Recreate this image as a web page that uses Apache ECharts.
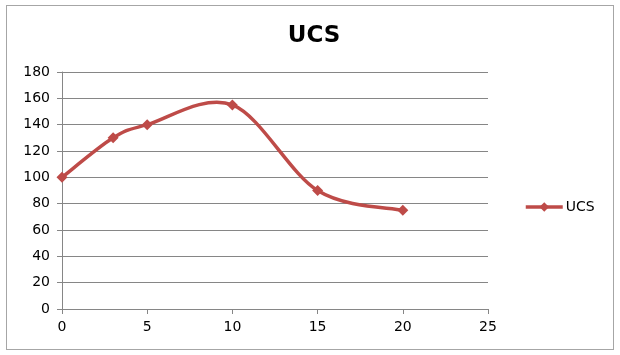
<!DOCTYPE html>
<html><head><meta charset="utf-8">
<script src="https://cdn.jsdelivr.net/npm/echarts@6/dist/echarts.min.js"></script>
<style>
html,body{margin:0;padding:0;background:#fff;}
#frame{position:absolute;left:6px;top:5px;width:606px;height:343px;border:1px solid #a6a6a6;}
#c{position:absolute;left:0;top:0;width:620px;height:355px;}
</style></head>
<body>
<div id="frame"></div>
<div id="c"></div>
<script>
const xValues = [0, 3, 5, 10, 15, 20];
const ucsValues = [100, 130, 140, 155, 90, 75];
const seriesName = 'UCS';
const titleText = 'UCS';

const chart = echarts.init(document.getElementById('c'), null, {renderer: 'canvas'});
const font = '"DejaVu Sans", sans-serif';
const lineColor = '#BE4B48';
const points = xValues.map((x, i) => [x, ucsValues[i]]);

// Excel-style (Catmull-Rom) smoothed segment between consecutive points,
// positioned through the chart's own scales via api.coord.
function renderSegment(params, api) {
  const i = params.dataIndexInside;
  const n = params.dataInsideLength;
  if (i >= n - 1) return null;
  const P = k => {
    const kk = Math.max(0, Math.min(n - 1, k));
    return api.coord([api.value(0, kk), api.value(1, kk)]);
  };
  const p0 = P(i - 1), p1 = P(i), p2 = P(i + 1), p3 = P(i + 2);
  return {
    type: 'bezierCurve',
    shape: {
      x1: p1[0], y1: p1[1], x2: p2[0], y2: p2[1],
      cpx1: p1[0] + (p2[0] - p0[0]) / 6, cpy1: p1[1] + (p2[1] - p0[1]) / 6,
      cpx2: p2[0] - (p3[0] - p1[0]) / 6, cpy2: p2[1] - (p3[1] - p1[1]) / 6
    },
    style: {stroke: lineColor, lineWidth: 3.5, fill: null, lineCap: 'round'}
  };
}

chart.setOption({
  animation: false,
  title: {text: titleText, left: 309, textAlign: 'center', top: 20,
    textStyle: {fontFamily: font, fontWeight: 'bold', fontSize: 23, color: '#000'}},
  legend: {data: [seriesName], left: 519, top: 195, itemWidth: 37, itemHeight: 12, itemGap: 2,
    lineStyle: {color: lineColor, width: 3.5, opacity: 1},
    itemStyle: {color: lineColor},
    textStyle: {fontFamily: font, fontSize: 14, color: '#000', padding: [0, 0, 0, -2]}},
  grid: {left: 62, right: 132, top: 72, bottom: 46},
  xAxis: {type: 'value', min: 0, max: 25, interval: 5,
    axisLine: {lineStyle: {color: '#868686'}},
    axisTick: {show: true, length: 5, inside: false, lineStyle: {color: '#868686'}},
    axisLabel: {fontFamily: font, fontSize: 14, color: '#000', margin: 11},
    splitLine: {show: false}},
  yAxis: {type: 'value', min: 0, max: 180, interval: 20,
    axisLine: {show: true, lineStyle: {color: '#868686'}},
    axisTick: {show: true, length: 5, lineStyle: {color: '#868686'}},
    axisLabel: {fontFamily: font, fontSize: 14, color: '#000', margin: 12},
    splitLine: {lineStyle: {color: '#868686'}}},
  series: [
    {
      name: 'UCS curve', type: 'custom', renderItem: renderSegment,
      data: points, encode: {x: 0, y: 1}, silent: true
    },
    {
      name: seriesName, type: 'line', smooth: false,
      data: points,
      symbol: 'diamond', symbolSize: 11,
      lineStyle: {color: lineColor, width: 3.5, opacity: 0},
      itemStyle: {color: lineColor}
    }
  ]
});
</script>
</body></html>
